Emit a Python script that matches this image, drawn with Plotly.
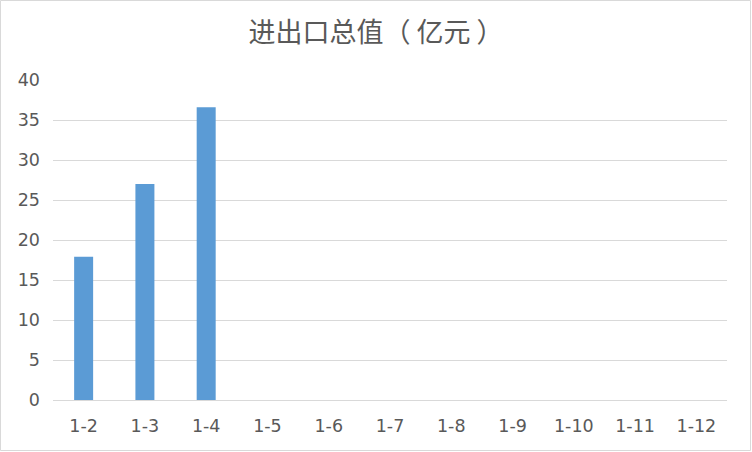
# 进出口总值 bar chart

import plotly.graph_objects as go

months = ["1-2", "1-3", "1-4", "1-5", "1-6", "1-7", "1-8", "1-9", "1-10", "1-11", "1-12"]
values = [17.9, 27.0, 36.6, None, None, None, None, None, None, None, None]
y_ticks = [0, 5, 10, 15, 20, 25, 30, 35, 40]

W, H = 752, 452
L, R, T, B = 53, 25, 80, 52
pw, ph = W - L - R, H - T - B


def main():
    fig = go.Figure(go.Bar(x=months, y=values, marker_color="#5b9bd5", marker_line_width=0))

    fig.update_layout(
        width=W, height=H,
        margin=dict(l=L, r=R, t=T, b=B),
        paper_bgcolor="white", plot_bgcolor="white",
        bargap=0.69,
        showlegend=False,
        font=dict(family="DejaVu Sans", size=17.5, color="#595959"),
        title=dict(text="进出口总值（ 亿元 ）", x=0.5, xanchor="center", y=1 - 33 / H, yanchor="middle",
                   font=dict(family="Noto Sans CJK SC", size=27, color="#595959")),
    )
    fig.update_xaxes(type="category", showgrid=False, showline=True, linecolor="#d9d9d9",
                     linewidth=1, ticks="", tickfont=dict(size=17.5), ticklabelstandoff=10)
    fig.update_yaxes(range=[0, 40], tickvals=y_ticks, showgrid=True, gridcolor="#d9d9d9",
                     gridwidth=1, zeroline=False, showline=False, ticks="", tickfont=dict(size=17.5),
                     ticklabelstandoff=12)

    # outer chart border
    fig.add_shape(type="rect", xref="paper", yref="paper",
                  x0=(0.5 - L) / pw, x1=(W - 1.5 - L) / pw,
                  y0=-(B - 1.5) / ph, y1=(ph + T - 0.5) / ph,
                  line=dict(color="#d9d9d9", width=1), fillcolor="rgba(0,0,0,0)", layer="below")

    fig.write_html("out.html", config={"displayModeBar": False},
                   post_script="document.body.style.margin='0';")


if __name__ == "__main__":
    main()
